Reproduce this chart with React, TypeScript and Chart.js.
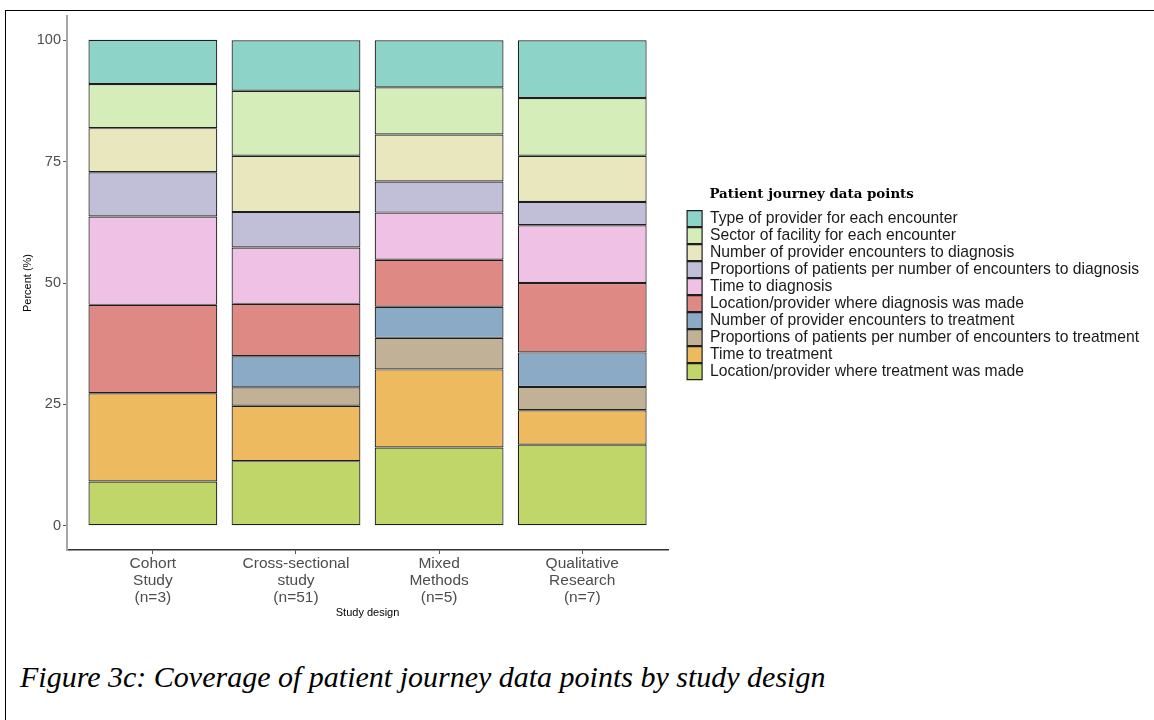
import React, { useEffect, useRef } from "react";
import { Chart, registerables } from "chart.js";

Chart.register(...registerables);

const studyDesigns: string[][] = [
  ["Cohort", "Study", "(n=3)"],
  ["Cross-sectional", "study", "(n=51)"],
  ["Mixed", "Methods", "(n=5)"],
  ["Qualitative", "Research", "(n=7)"],
];

const yTicks = [0, 25, 50, 75, 100];

// stacked bottom -> top
const treatmentLocation = [9.1, 13.3, 16.1, 16.7];
const timeToTreatment = [18.2, 11.4, 16.1, 7.1];
const propEncountersTreatment = [0, 3.8, 6.5, 4.8];
const numEncountersTreatment = [0, 6.4, 6.4, 7.1];
const diagnosisLocation = [18.2, 10.8, 9.7, 14.3];
const timeToDiagnosis = [18.2, 11.6, 9.7, 11.9];
const propEncountersDiagnosis = [9.1, 7.3, 6.4, 4.8];
const numEncountersDiagnosis = [9.1, 11.6, 9.7, 9.5];
const sectorOfFacility = [9.1, 13.4, 9.7, 11.9];
const typeOfProvider = [9.1, 10.4, 9.7, 11.9];

const seriesNames = [
  "Location/provider where treatment was made",
  "Time to treatment",
  "Proportions of patients per number of encounters to treatment",
  "Number of provider encounters to treatment",
  "Location/provider where diagnosis was made",
  "Time to diagnosis",
  "Proportions of patients per number of encounters to diagnosis",
  "Number of provider encounters to diagnosis",
  "Sector of facility for each encounter",
  "Type of provider for each encounter",
];

const seriesValues = [
  treatmentLocation,
  timeToTreatment,
  propEncountersTreatment,
  numEncountersTreatment,
  diagnosisLocation,
  timeToDiagnosis,
  propEncountersDiagnosis,
  numEncountersDiagnosis,
  sectorOfFacility,
  typeOfProvider,
];

const seriesColors = [
  "#C0D668",
  "#EEBA60",
  "#C1B197",
  "#8BAAC6",
  "#DE8984",
  "#EFC1E4",
  "#C1BED8",
  "#E9E7BD",
  "#D5EDB8",
  "#8DD3C7",
];

const SANS = "'Liberation Sans', Arial, Helvetica, sans-serif";

export default function App() {
  const canvasRef = useRef<HTMLCanvasElement | null>(null);

  useEffect(() => {
    if (!canvasRef.current) return;
    const datasets = seriesNames.map((name, i) => ({
      label: name,
      data: seriesValues[i].map((v, j) => ({ x: j, y: v })),
      backgroundColor: seriesColors[i],
      borderColor: "#1e1e1e",
      borderWidth: 1.2,
      borderSkipped: false as const,
      barPercentage: 0.9,
      categoryPercentage: 1.0,
      xAxisID: "x",
      yAxisID: "y",
    }));

    const tickGrid = {
      display: true,
      drawOnChartArea: false,
      drawTicks: true,
      offset: false,
      tickLength: 4,
      color: "#555555",
      lineWidth: 1,
    };

    const chart = new Chart(canvasRef.current, {
      type: "bar",
      data: { datasets },
      options: {
        animation: false,
        responsive: false,
        maintainAspectRatio: false,
        layout: { padding: { top: 16, left: 10, right: 5, bottom: 10 } },
        plugins: {
          tooltip: { enabled: false },
          legend: {
            position: "right",
            align: "start",
            reverse: true,
            maxWidth: 520,
            labels: {
              boxWidth: 15,
              boxHeight: 16,
              padding: 1,
              color: "#1a1a1a",
              font: { family: SANS, size: 15.7 },
            },
            title: {
              display: true,
              position: "start",
              text: "     Patient journey data points",
              color: "#000000",
              font: { family: "'DejaVu Serif', 'Liberation Serif', serif", size: 13.4, weight: "bold" },
              padding: { top: 172, bottom: 5.5 },
            },
          },
        },
        scales: {
          x: {
            type: "linear",
            position: "bottom",
            stacked: true,
            offset: false,
            min: -0.6,
            max: 3.6,
            afterBuildTicks: (scale: any) => {
              scale.ticks = studyDesigns.map((_, i) => ({ value: i }));
            },
            afterFit: (scale: any) => {
              scale.height = 70;
            },
            ticks: {
              autoSkip: false,
              maxRotation: 0,
              minRotation: 0,
              padding: 1,
              color: "#4d4d4d",
              font: { family: SANS, size: 15.5, lineHeight: 1.1 },
              callback: (value: any) => studyDesigns[Math.round(Number(value))] ?? "",
            },
            grid: tickGrid,
            border: { display: true, color: "#333333", width: 1.5 },
            title: {
              display: true,
              text: "Study design",
              color: "#000000",
              font: { family: SANS, size: 11 },
              padding: { top: 0, bottom: 0 },
            },
          },
          y: {
            type: "linear",
            position: "left",
            stacked: true,
            min: -5,
            max: 105,
            afterBuildTicks: (scale: any) => {
              scale.ticks = yTicks.map((v) => ({ value: v }));
            },
            afterFit: (scale: any) => {
              scale.width = 57;
            },
            ticks: {
              padding: 2,
              color: "#4d4d4d",
              font: { family: SANS, size: 14.5 },
            },
            grid: tickGrid,
            border: { display: true, color: "#a6a6a6", width: 2 },
            title: {
              display: true,
              text: "Percent (%)",
              color: "#000000",
              font: { family: SANS, size: 11 },
              padding: { top: 11, bottom: 0 },
            },
          },
          spacer: {
            type: "linear",
            position: "right",
            display: true,
            ticks: { display: false },
            grid: { display: false },
            border: { display: false },
            afterFit: (scale: any) => {
              scale.width = 18;
            },
          },
        },
      },
    } as any);

    return () => chart.destroy();
  }, []);

  return (
    <div
      style={{
        position: "fixed",
        left: 0,
        top: 0,
        width: 1154,
        height: 720,
        background: "#ffffff",
        overflow: "hidden",
      }}
    >
      <div
        style={{
          position: "absolute",
          left: 5,
          top: 10,
          width: 1160,
          height: 720,
          borderLeft: "1.5px solid #000",
          borderTop: "1.5px solid #000",
        }}
      />
      <canvas
        ref={canvasRef}
        width={1154}
        height={630}
        style={{ position: "absolute", left: 0, top: 0, width: 1154, height: 630 }}
      />
      <div
        style={{
          position: "absolute",
          left: 20,
          top: 660,
          fontFamily: "'Liberation Serif', 'Times New Roman', serif",
          fontStyle: "italic",
          fontSize: 30,
          color: "#000",
          whiteSpace: "nowrap",
        }}
      >
        Figure 3c: Coverage of patient journey data points by study design
      </div>
    </div>
  );
}
